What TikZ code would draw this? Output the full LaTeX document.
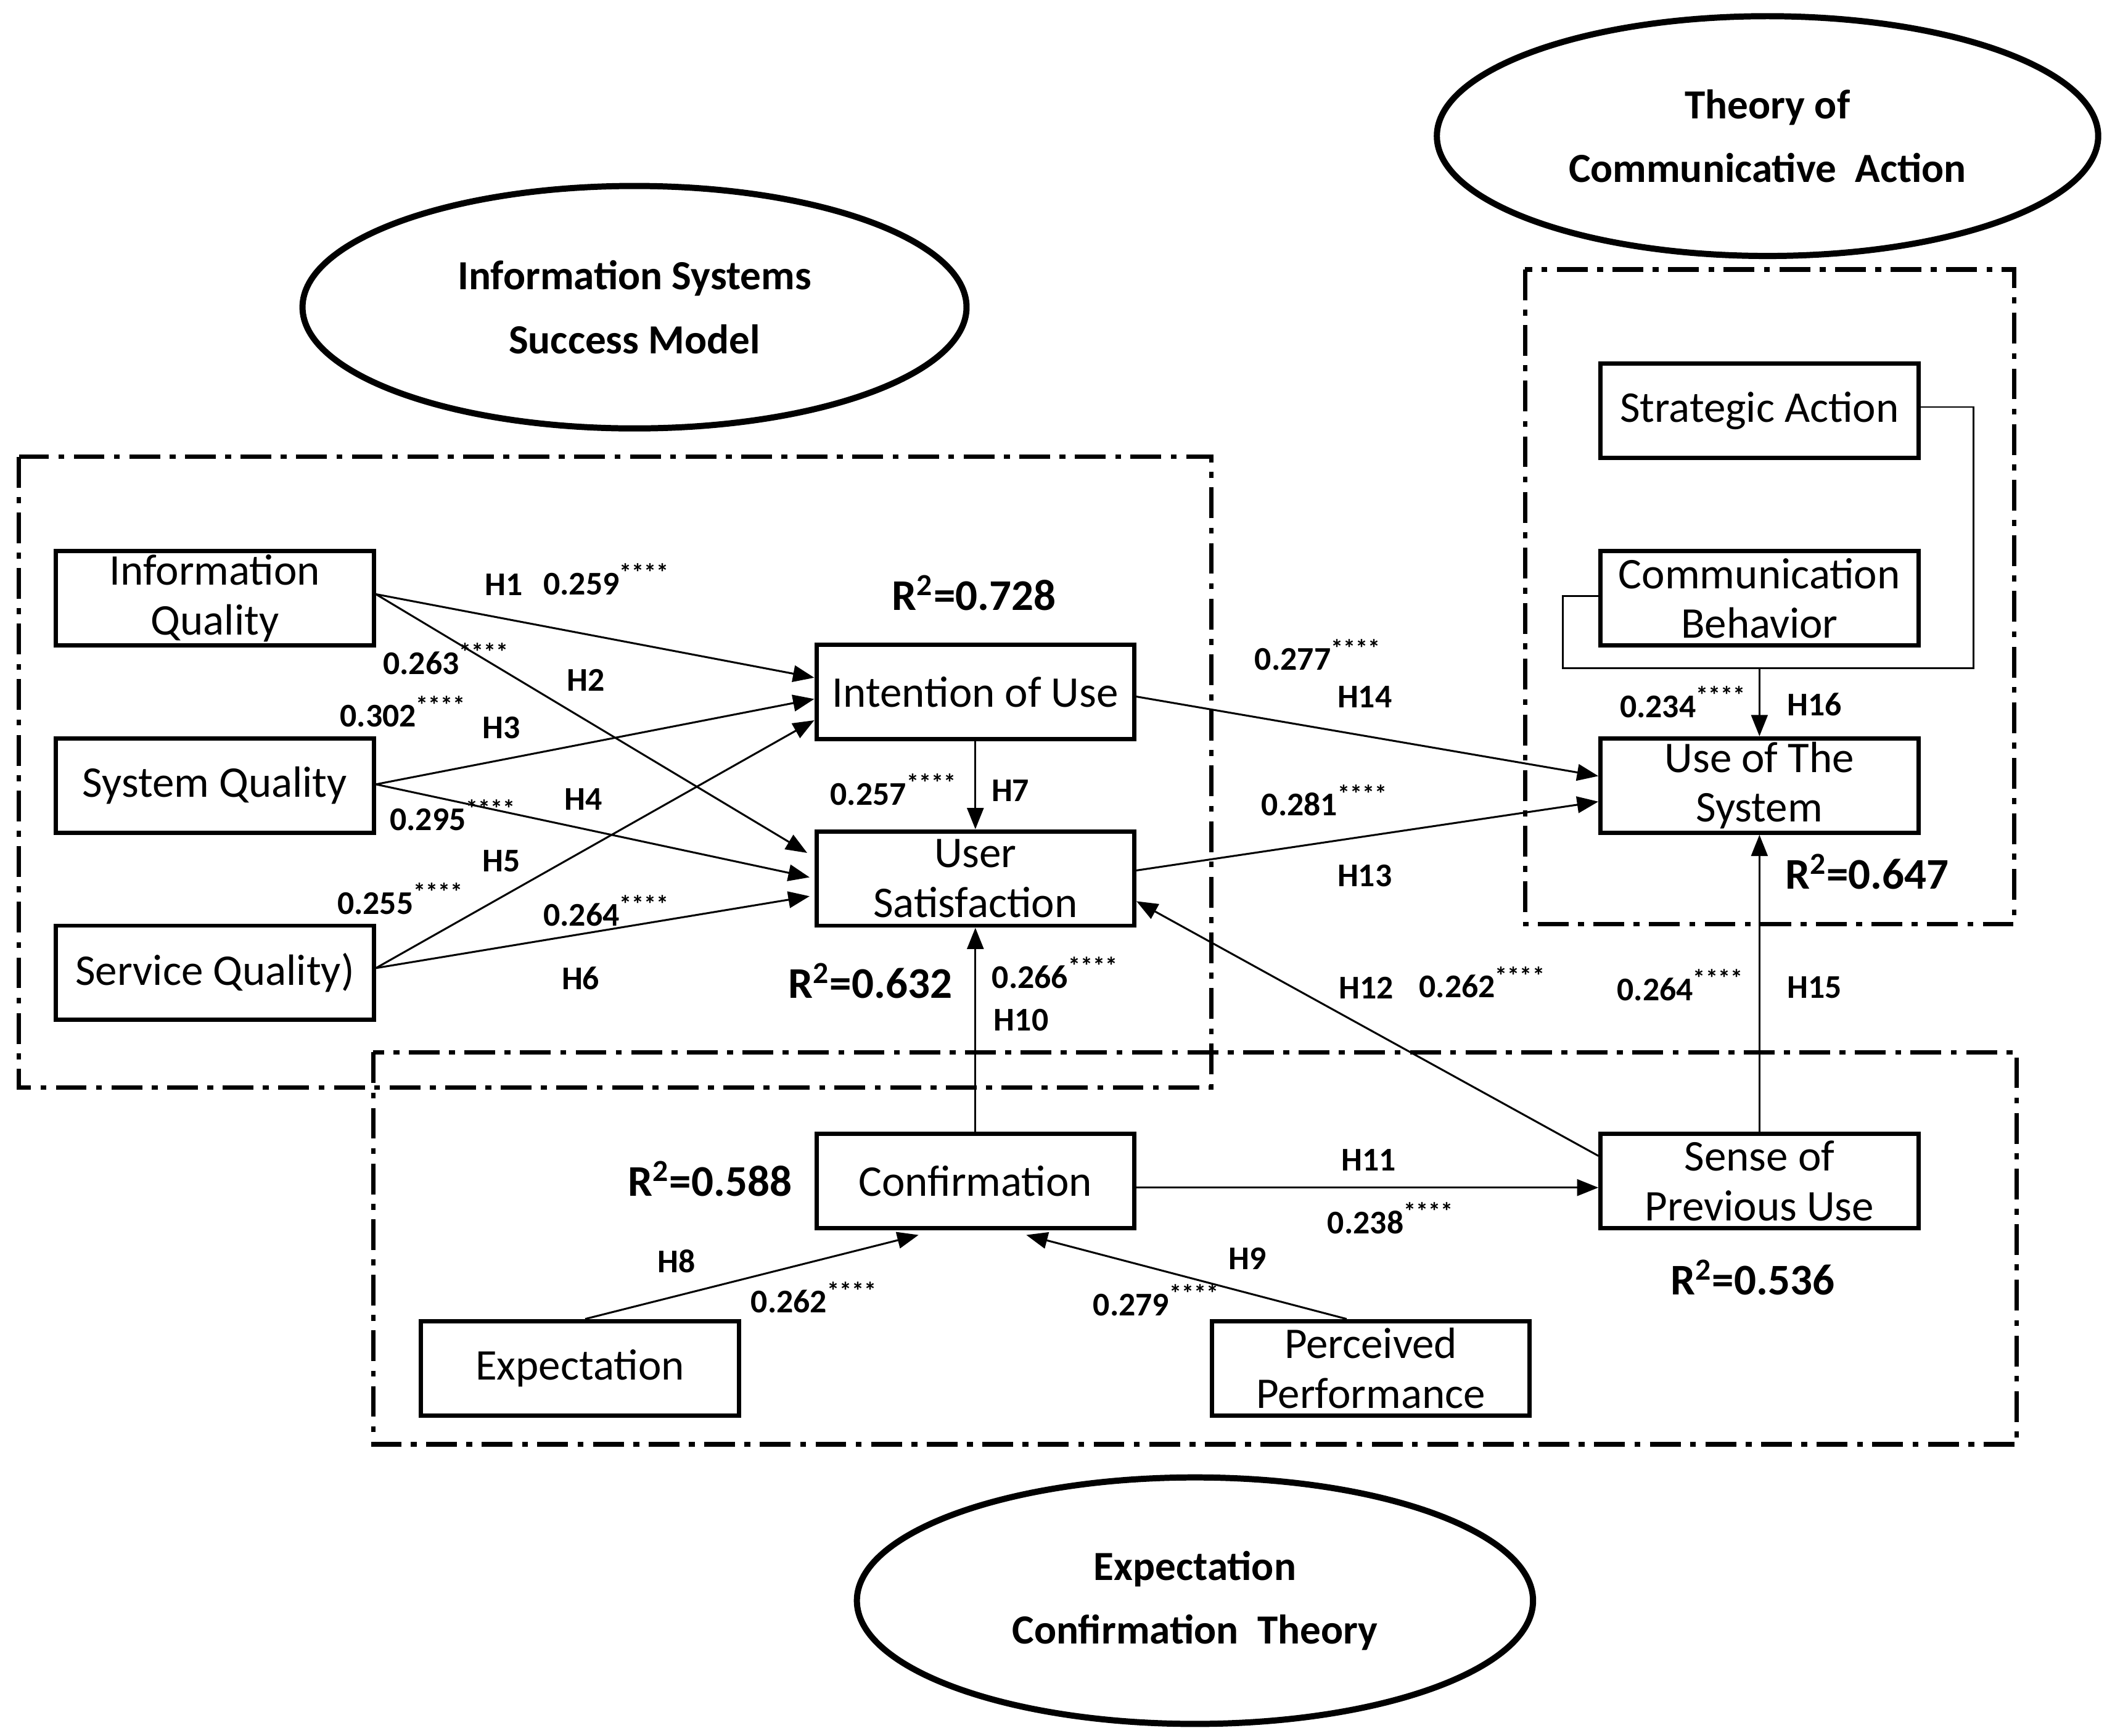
\documentclass[tikz,border=0pt]{standalone}
\usepackage{fontspec}
\setmainfont{Carlito}
\usetikzlibrary{shapes.geometric,arrows.meta}
\newcommand{\coef}[1]{#1\raisebox{0.4em}{\fontsize{10.5}{10.5}\selectfont ****}}

\begin{document}
\begin{tikzpicture}[x=0.02cm,y=-0.02cm,
		box/.style={draw,line width=1.8pt,minimum width=4.72cm,minimum height=1.4cm,inner sep=0pt,align=center,font=\fontsize{18.5}{21}\selectfont},
		theory/.style={draw,ellipse,line width=2.6pt,inner sep=0pt,align=center,font=\fontsize{17.5}{27}\selectfont\bfseries},
		frame/.style={line width=1.9pt,dash pattern=on 13pt off 4pt on 2.5pt off 4pt},
		arr/.style={line width=0.8pt,-{Triangle[length=9pt,width=7pt]}},
		hyp/.style={inner sep=0pt,font=\fontsize{14}{16}\selectfont\bfseries},
		rsq/.style={inner sep=0pt,font=\fontsize{18.5}{20}\selectfont\bfseries}]
				\useasboundingbox (0,0) rectangle (1564,1288);
				% frames
				\draw[frame] (14,339) rectangle (899,807);
				\draw[frame] (1132,200) rectangle (1495,686);
				\draw[frame] (277,781) rectangle (1497,1072);
				% theories
				\node[theory,minimum width=9.86cm,minimum height=3.6cm] (ism) at (471,228) {Information Systems\\Success Model};
				\node[theory,minimum width=9.82cm,minimum height=3.56cm] (tca) at (1312,101) {Theory of\\Communicative\ \ Action};
				\node[theory,minimum width=10.04cm,minimum height=3.66cm] (ect) at (887,1188) {Expectation\\Confirmation\ \ Theory};
				% constructs
				\node[box] (infoq) at (159.5,444) {Information\\Quality};
				\node[box] (sysq) at (159.5,583) {System Quality};
				\node[box] (servq) at (159.5,722) {Service Quality)};
				\node[box] (intent) at (724,513.5) {Intention of Use};
				\node[box] (usersat) at (724,652) {User\\Satisfaction};
				\node[box] (strat) at (1306,305) {Strategic Action};
				\node[box] (comm) at (1306,444) {Communication\\Behavior};
				\node[box] (usesys) at (1306,583) {Use of The\\System};
				\node[box] (confirm) at (724,876.5) {Confirmation};
				\node[box] (sense) at (1306,876.5) {Sense of\\Previous Use};
				\node[box] (expect) at (430.5,1015.5) {Expectation};
				\node[box] (perf) at (1017.5,1015.5) {Perceived\\Performance};
				% paths
				\draw[arr] ([yshift=1.7pt]infoq.east) -- ([yshift=6pt]intent.west);
				\draw[arr] ([yshift=1.7pt]infoq.east) -- ([xshift=-3pt,yshift=10.8pt]usersat.west);
				\draw[arr] ([yshift=0.5pt]sysq.east) -- ([yshift=-3pt]intent.west);
				\draw[arr] ([yshift=0.5pt]sysq.east) -- ([xshift=-2pt,yshift=0.5pt]usersat.west);
				\draw[arr] ([yshift=2pt]servq.east) -- ([yshift=-12pt]intent.west);
				\draw[arr] ([yshift=2pt]servq.east) -- ([xshift=-2pt,yshift=-7.5pt]usersat.west);
				\draw[arr] (intent.south) -- (usersat.north);
				\draw[arr] (confirm.north) -- (usersat.south);
				\draw[arr] ([yshift=-2pt]intent.east) -- ([yshift=4pt]usesys.west);
				\draw[arr] ([yshift=3.4pt]usersat.east) -- ([yshift=-6.8pt]usesys.west);
				\draw[arr] ([yshift=10.6pt]sense.west) -- ([yshift=-9.6pt]usersat.east);
				\draw[arr] ([yshift=-2.8pt]confirm.east) -- ([yshift=-2.8pt]sense.west);
				\draw[arr] (sense.north) -- (usesys.south);
				\draw[arr] ([xshift=2.2pt]expect.north) -- ([xshift=-24pt,yshift=-2pt]confirm.south);
				\draw[arr] ([xshift=-10.2pt]perf.north) -- ([xshift=21.5pt,yshift=-2pt]confirm.south);
				\coordinate (loopr) at (1465,496);
				\coordinate (loopl) at (1160,496);
				\coordinate (loopm) at (1306,496);
				\draw[line width=0.7pt] ([yshift=1.7pt]strat.east) -| (loopr) -- (loopl) |- ([yshift=1pt]comm.west);
				\draw[arr] (loopm) -- (usesys.north);
				% hypotheses
				\node[hyp] (h1) at (374,434) {H1};
				\node[hyp] (h2) at (435,505) {H2};
				\node[hyp] (h3) at (372,540) {H3};
				\node[hyp] (h4) at (433,593) {H4};
				\node[hyp] (h5) at (372,639) {H5};
				\node[hyp] (h6) at (431,726) {H6};
				\node[hyp] (h7) at (750,587) {H7};
				\node[hyp] (h8) at (502,936) {H8};
				\node[hyp] (h9) at (926,934) {H9};
				\node[hyp] (h10) at (758,757) {H10};
				\node[hyp] (h11) at (1016,861) {H11};
				\node[hyp] (h12) at (1014,733) {H12};
				\node[hyp] (h13) at (1013,650) {H13};
				\node[hyp] (h14) at (1013,517) {H14};
				\node[hyp] (h15) at (1347,733) {H15};
				\node[hyp] (h16) at (1347,523) {H16};
				% coefficients
				\node[hyp] (c1) at (450,430) {\coef{0.259}};
				\node[hyp] (c2) at (331,489) {\coef{0.263}};
				\node[hyp] (c3) at (299,528) {\coef{0.302}};
				\node[hyp] (c4) at (336,605) {\coef{0.295}};
				\node[hyp] (c5) at (297,667) {\coef{0.255}};
				\node[hyp] (c6) at (450,676) {\coef{0.264}};
				\node[hyp] (c7) at (663,586) {\coef{0.257}};
				\node[hyp] (c8) at (604,963) {\coef{0.262}};
				\node[hyp] (c9) at (858,965) {\coef{0.279}};
				\node[hyp] (c10) at (783,722) {\coef{0.266}};
				\node[hyp] (c11) at (1032,904) {\coef{0.238}};
				\node[hyp] (c12) at (1100,729) {\coef{0.262}};
				\node[hyp] (c13) at (983,594) {\coef{0.281}};
				\node[hyp] (c14) at (978,486) {\coef{0.277}};
				\node[hyp] (c15) at (1247,731) {\coef{0.264}};
				\node[hyp] (c16) at (1249,521) {\coef{0.234}};
				% explained variance
				\node[rsq] (r1) at (723,440) {R\textsuperscript{2}=0.728};
				\node[rsq] (r2) at (646,728) {R\textsuperscript{2}=0.632};
				\node[rsq] (r3) at (1386,647) {R\textsuperscript{2}=0.647};
				\node[rsq] (r4) at (527,875) {R\textsuperscript{2}=0.588};
				\node[rsq] (r5) at (1301,948) {R\textsuperscript{2}=0.536};
		\end{tikzpicture}
\end{document}
